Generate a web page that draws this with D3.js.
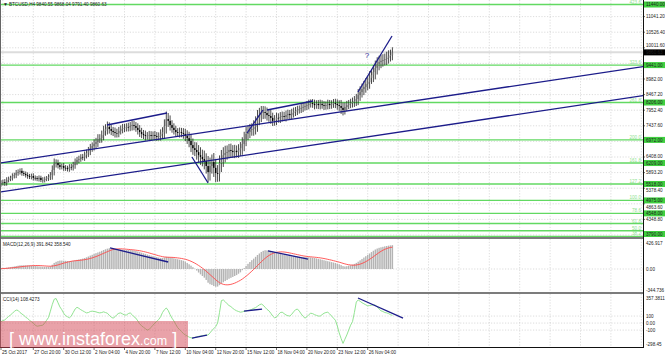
<!DOCTYPE html>
<html>
<head>
<meta charset="utf-8">
<script src="https://cdnjs.cloudflare.com/ajax/libs/d3/7.8.5/d3.min.js"></script>
<style>
  body { margin: 0; background: #fff; }
  svg { display: block; font-family: "Liberation Sans", Arial, sans-serif; }
  .grid line { stroke: #c4c4c4; stroke-width: 0.6; stroke-dasharray: 1.2,1.6; }
  .lbl { font-size: 4.6px; fill: #222; }
</style>
</head>
<body>
<svg id="svg" width="665" height="357"></svg>
<script>
// H4 closes, bar 0 = 25 Oct 2017 00:00
const closes = [
  5550,5580,5550,5650,5680,5720,5780,5810,5880,5910,
  5950,5880,5850,5810,5780,5750,5780,5720,5710,5680,
  5720,5650,5650,5680,5710,5750,5810,5980,6180,6210,
  6140,6080,6110,6050,6040,6010,6080,6070,6140,6240,
  6310,6340,6410,6400,6470,6540,6610,6700,6770,6840,
  6900,7000,7030,7130,7270,7330,7400,7330,7270,7230,
  7200,7190,7270,7330,7360,7370,7400,7390,7430,7460,
  7430,7370,7300,7230,7170,7130,7100,7110,7130,7100,
  7130,7100,7070,7100,7170,7230,7430,7660,7600,7460,
  7370,7300,7230,7200,7230,7200,7170,7100,7030,6940,
  6800,6700,6640,6570,6470,6410,6340,6280,6110,5910,
  6110,6240,6050,5880,5850,6210,6340,6470,6540,6570,
  6640,6610,6570,6610,6570,6640,6700,6840,7000,7170,
  7230,7300,7330,7400,7500,7700,7790,7860,7890,7860,
  7790,7760,7700,7600,7630,7700,7690,7730,7760,7730,
  7790,7830,7790,7860,7890,7930,7960,7990,8030,8060,
  8090,8120,8160,8190,8160,8120,8160,8120,8160,8120,
  8090,8120,8160,8120,8160,8190,8160,8120,8090,8030,
  7960,8060,8120,8160,8190,8220,8260,8320,8450,8550,
  8650,8720,8820,8880,9020,9110,9210,9350,9480,9540,
  9580,9610,9640,9680,9740,9770,9860
];
// extra wick length above / below each body
const wicks = [
  90,80,100,90,80,70,90,80,100,90,
  80,90,70,80,90,70,80,90,80,70,
  80,70,90,80,70,90,100,150,180,120,
  110,90,80,100,90,80,90,100,110,120,
  100,110,90,100,120,110,130,140,120,150,
  140,160,130,150,170,160,180,150,140,130,
  150,140,130,120,140,130,120,140,130,150,
  140,130,150,160,140,130,150,120,140,130,
  120,140,130,120,150,160,220,250,200,180,
  160,150,140,130,150,140,160,170,190,210,
  230,220,200,250,230,260,240,280,250,330,
  280,250,300,300,260,250,300,260,240,220,
  200,210,190,200,180,190,200,220,240,230,
  210,200,190,220,250,260,240,230,200,190,
  180,190,200,170,160,170,150,160,150,140,
  150,140,130,140,150,130,140,120,130,140,
  120,130,140,120,130,140,120,130,140,120,
  130,120,140,130,120,130,140,150,160,200,
  180,150,140,130,140,150,160,170,200,190,
  180,200,190,210,220,200,230,240,220,210,
  200,190,180,200,190,180,170
];
const macdMain = [
  10,14,18,22,26,31,36,42,48,54,
  60,61,61,60,60,59,57,54,50,46,
  42,40,38,37,38,39,44,70,100,118,
  130,138,138,136,134,131,130,131,135,142,
  150,157,163,170,180,192,205,220,233,246,
  260,272,284,298,312,324,334,340,338,334,
  329,325,322,320,318,316,314,312,310,308,
  303,296,288,278,268,258,248,238,228,220,
  212,204,196,188,182,182,190,200,198,192,
  184,176,168,160,153,145,136,122,100,78,
  55,30,5,-25,-58,-88,-115,-142,-180,-225,
  -250,-262,-280,-292,-288,-265,-240,-218,-198,-180,
  -160,-145,-130,-115,-100,-78,-55,-20,15,50,
  85,115,145,170,200,230,255,280,298,308,
  306,302,296,285,274,265,255,246,238,230,
  224,218,212,208,205,203,202,201,200,199,
  197,195,193,190,186,180,174,167,160,152,
  144,136,128,121,113,106,98,88,78,64,
  48,42,46,54,62,72,84,100,120,142,
  165,188,210,232,255,278,300,320,336,348,
  356,364,372,378,384,388,391.842
];
const macdSignal = [
  5,7,9,11,14,17,20,23,27,31,
  35,39,43,46,49,52,54,56,57,57,
  56,55,53,51,49,47,46,48,53,59,
  67,77,86,96,105,113,120,127,132,135,
  138,141,144,148,153,158,165,173,182,193,
  204,216,229,243,257,271,285,298,310,319,
  325,329,331,331,330,328,325,322,319,316,
  313,309,305,300,294,287,280,272,263,254,
  245,236,227,218,210,203,198,195,193,192,
  191,189,186,182,178,173,167,160,151,140,
  127,112,96,78,58,37,14,-10,-36,-64,
  -92,-120,-148,-176,-202,-224,-240,-252,-258,-260,
  -258,-252,-243,-232,-218,-202,-185,-165,-142,-118,
  -92,-64,-36,-6,25,56,88,118,148,175,
  200,222,240,255,266,274,279,281,281,279,
  275,270,264,257,250,243,236,229,222,216,
  211,207,203,200,197,194,191,187,183,178,
  172,166,159,152,145,137,129,121,112,103,
  93,84,76,70,66,63,63,66,72,80,
  91,105,121,139,159,180,202,225,248,270,
  290,308,323,336,346,353,358.54
];
const cci = [
  20,35,45,70,95,115,140,165,185,180,
  150,130,110,85,65,40,20,0,-30,-45,
  -40,-35,-30,0,40,80,170,265,340,350,
  290,230,190,140,105,90,75,100,150,200,
  225,210,190,175,160,145,150,165,170,165,
  160,150,145,150,160,150,140,110,85,70,
  90,120,140,145,130,115,115,135,145,120,
  90,70,30,-10,-40,-60,-80,-100,-90,-60,
  -30,0,25,50,90,150,190,215,180,120,
  70,30,-20,-65,-95,-120,-150,-170,-185,-200,
  -210,-215,-205,-195,-190,-185,-180,-175,-172,-170,
  -140,-105,-80,-50,0,150,320,330,305,275,
  250,235,210,190,175,165,155,160,170,175,
  180,185,195,210,220,240,260,272,255,225,
  195,175,140,100,75,85,120,150,155,135,
  115,105,100,125,160,190,200,170,130,95,
  70,90,120,140,135,120,110,100,100,120,
  140,150,155,130,100,70,40,-40,-140,-220,
  -290,-230,-170,-100,-30,20,150,300,330,310,
  290,275,260,245,250,255,260,255,230,200,
  175,165,150,145,135,120,108.4273
];

// fibo levels (green)
const fiboRatios = ["423.6","323.6","261.8","200.0","161.8","127.2","100.0","78.6","61.8","50.0","38.2"];
const fiboPrices = [11440, 9441, 8206, 6972, 6209, 5518, 4975, 4548, 4212, 3976, 3790];
const fiboBoxed  = [true, true, true, true, true, true, true, true, false, false, true];

const priceTicks = [3834.0, 4348.8, 4863.6, 5378.4, 5893.2, 6408.0, 6922.8, 7437.6, 7952.4, 8467.2, 8982.0, 9496.8, 10011.6, 10526.4, 11041.2];
const timeTicks = [0, 17, 33, 49, 65, 81, 97, 113, 129, 145, 161, 177, 193];
const timeLabels = ["25 Oct 2017", "27 Oct 20:00", "30 Oct 12:00", "2 Nov 04:00", "4 Nov 20:00", "7 Nov 12:00",
  "10 Nov 04:00", "12 Nov 20:00", "15 Nov 12:00", "18 Nov 04:00", "20 Nov 20:00", "23 Nov 12:00", "26 Nov 04:00"];

// trend lines [bar1, value1, bar2, value2]
const priceLines = [
  [-0.5, 5253, 338, 8437],   // lower channel
  [-0.5, 6210, 338, 9394],   // upper channel
  [55.8, 7464, 87.4, 7860],
  [100.5, 6408, 109, 5550],
  [129.5, 7200, 137.9, 7959],
  [140, 7959, 164.2, 8256],
  [187.9, 8553, 205.8, 10401]
];
const macdLines = [[57.4, 345, 88, 115], [140.5, 296, 161.6, 164]];
const cciLines = [[100.5, -214, 108.4, -171], [127.9, 170, 137.4, 200], [187.9, 357, 211.6, 71]];

const lastPrice = 9860.63;
const macdTicks = [426.917, 0, -344.736];
const cciTicks = [357.3811, 100, 0, -100, -298.45];

// ---- layout
const L = 1, R = 643;
const main = { top: 0, bottom: 237 }, mac = { top: 239, bottom: 292 }, cc = { top: 294, bottom: 347 };

var svg = d3.select("svg");
var x = d3.scaleLinear().domain([0, 338]).range([L, R + 0.2]);
var y = d3.scaleLinear().domain([3768, 11589]).range([main.bottom, main.top]);
var ym = d3.scaleLinear().domain([-344.736, 426.917]).range([290, 243]);
var yc = d3.scaleLinear().domain([-298.45, 357.3811]).range([344, 298]);

var defs = svg.append("defs");
[["cm", main], ["cmac", mac], ["ccc", cc]].forEach(function (p) {
  defs.append("clipPath").attr("id", p[0]).append("rect")
    .attr("x", L).attr("y", p[1].top).attr("width", R - L).attr("height", p[1].bottom - p[1].top);
});

// grid
var gridBars = d3.range(1, 338, 16);
[[main, priceTicks.map(y)], [mac, [ym(0)]], [cc, [yc(100), yc(0), yc(-100)]]].forEach(function (p) {
  var g = svg.append("g").attr("class", "grid");
  g.selectAll(".v").data(gridBars).enter().append("line")
    .attr("x1", d => x(d)).attr("x2", d => x(d)).attr("y1", p[0].top).attr("y2", p[0].bottom);
  g.selectAll(".h").data(p[1]).enter().append("line")
    .attr("x1", L).attr("x2", R).attr("y1", d => d).attr("y2", d => d);
});

// ---- main panel
var gm = svg.append("g").attr("clip-path", "url(#cm)");

gm.selectAll(".fibo").data(fiboPrices).enter().append("line")
  .attr("x1", L).attr("x2", R).attr("y1", d => y(d)).attr("y2", d => y(d))
  .attr("stroke", "#62d962").attr("stroke-width", 1.4);
gm.selectAll(".fiboTxt").data(fiboPrices).enter().append("text")
  .attr("x", R - 2).attr("y", d => y(d) - 1).attr("text-anchor", "end")
  .attr("font-size", 4.6).attr("fill", "#8fdf8f").text((d, i) => fiboRatios[i]);

gm.append("line").attr("x1", L).attr("x2", R).attr("y1", y(lastPrice)).attr("y2", y(lastPrice))
  .attr("stroke", "#dcdcdc").attr("stroke-width", 2);

var bars = closes.map(function (c, i) {
  var o = i ? closes[i - 1] : 5520;
  return { i: i, o: o, c: c, h: Math.max(o, c) + wicks[i], l: Math.min(o, c) - wicks[i] };
});
gm.selectAll(".wick").data(bars).enter().append("line")
  .attr("x1", d => x(d.i)).attr("x2", d => x(d.i)).attr("y1", d => y(d.h)).attr("y2", d => y(d.l))
  .attr("stroke", "#1e1e1e").attr("stroke-width", 0.8);
gm.selectAll(".body").data(bars).enter().append("rect")
  .attr("x", d => x(d.i) - 0.7).attr("width", 1.4)
  .attr("y", d => y(Math.max(d.o, d.c))).attr("height", d => Math.max(0.6, Math.abs(y(d.o) - y(d.c))))
  .attr("fill", d => d.c >= d.o ? "#6e6e6e" : "#000");

gm.selectAll(".tl").data(priceLines).enter().append("line")
  .attr("x1", d => x(d[0])).attr("y1", d => y(d[1])).attr("x2", d => x(d[2])).attr("y2", d => y(d[3]))
  .attr("stroke", "#1c1c8a").attr("stroke-width", 1.3);
gm.append("text").attr("x", x(191.5)).attr("y", y(9660)).attr("font-size", 8)
  .attr("fill", "#2a2a9a").text("?");

svg.append("text").attr("x", 3).attr("y", 6).attr("font-size", 5).attr("fill", "#222").text("\u25BC");
svg.append("text").attr("x", 9).attr("y", 6).attr("class", "lbl").attr("fill", "#444")
  .text("BTCUSD,H4  9840.55 9868.04 9791.40 9860.63");

// ---- MACD panel
var gmac = svg.append("g").attr("clip-path", "url(#cmac)");
gmac.selectAll(".hist").data(macdMain).enter().append("rect")
  .attr("x", (d, i) => x(i) - 0.7).attr("width", 1.4)
  .attr("y", d => Math.min(ym(d), ym(0))).attr("height", d => Math.abs(ym(d) - ym(0)))
  .attr("fill", "#b4b4b4");
gmac.append("path").datum(macdSignal)
  .attr("d", d3.line().x((d, i) => x(i)).y(d => ym(d)))
  .attr("fill", "none").attr("stroke", "#ff4a4a").attr("stroke-width", 0.9);
gmac.selectAll(".tl").data(macdLines).enter().append("line")
  .attr("x1", d => x(d[0])).attr("y1", d => ym(d[1])).attr("x2", d => x(d[2])).attr("y2", d => ym(d[3]))
  .attr("stroke", "#1c1c8a").attr("stroke-width", 1.3);
svg.append("text").attr("class", "lbl").attr("x", 3).attr("y", 245.5)
  .text("MACD(12,26,9) 391.842 358.540");

// ---- CCI panel
var gcc = svg.append("g").attr("clip-path", "url(#ccc)");
gcc.append("path").datum(cci)
  .attr("d", d3.line().x((d, i) => x(i)).y(d => yc(d)))
  .attr("fill", "none").attr("stroke", "#86e086").attr("stroke-width", 0.9);
gcc.selectAll(".tl").data(cciLines).enter().append("line")
  .attr("x1", d => x(d[0])).attr("y1", d => yc(d[1])).attr("x2", d => x(d[2])).attr("y2", d => yc(d[3]))
  .attr("stroke", "#1c1c8a").attr("stroke-width", 1.3);
svg.append("text").attr("class", "lbl").attr("x", 3).attr("y", 300.5).text("CCI(14) 108.4273");

// ---- frames and separators
svg.append("rect").attr("x", 0).attr("y", 237).attr("width", 644).attr("height", 2).attr("fill", "#7c7c7c");
svg.append("rect").attr("x", 0).attr("y", 292).attr("width", 644).attr("height", 2).attr("fill", "#7c7c7c");
svg.append("line").attr("x1", 0.5).attr("x2", 0.5).attr("y1", 0).attr("y2", 347).attr("stroke", "#666");
svg.append("line").attr("x1", R + 0.5).attr("x2", R + 0.5).attr("y1", 0).attr("y2", 347).attr("stroke", "#111");
svg.append("line").attr("x1", 0).attr("x2", R + 1).attr("y1", 347.5).attr("y2", 347.5).attr("stroke", "#111");

// ---- right axes
// price labels hidden under a level box are skipped, near ones pushed clear of it
var boxYs = fiboPrices.filter((p, i) => fiboBoxed[i]).map(p => Math.min(y(p), 234)).concat([y(lastPrice)]);
function tickY(d) {
  var yy = y(d);
  for (var k = 0; k < boxYs.length; k++) {
    var dy = yy - boxYs[k];
    if (Math.abs(dy) < 2.5) return null;
    if (Math.abs(dy) < 6.5) return boxYs[k] + (dy > 0 ? 6.5 : -6.5);
  }
  return yy;
}
var ax = svg.append("g").attr("class", "lbl");
ax.selectAll(".pt").data(priceTicks.filter(d => tickY(d) !== null)).enter().append("text")
  .attr("x", 646).attr("y", d => tickY(d) + 1.6).text(d => d.toFixed(2));
ax.selectAll(".mt").data(macdTicks).enter().append("text")
  .attr("x", 646).attr("y", d => ym(d) + 1.6).text(d => d === 0 ? "0.00" : d.toFixed(3));
ax.selectAll(".ct").data(cciTicks).enter().append("text")
  .attr("x", 646).attr("y", d => yc(d) + 1.6).text(d => d === 0 ? "0.00" : String(d));
svg.selectAll(".tick").data(priceTicks).enter().append("line")
  .attr("x1", R).attr("x2", R + 2).attr("y1", d => y(d)).attr("y2", d => y(d)).attr("stroke", "#111").attr("stroke-width", 0.6);

// fibo price boxes
var fb = svg.append("g");
fiboPrices.forEach(function (p, i) {
  if (!fiboBoxed[i]) return;
  var yy = Math.min(y(p), 234);
  fb.append("rect").attr("x", 644).attr("y", yy - 3).attr("width", 21).attr("height", 6).attr("fill", "#3fcf3f");
  fb.append("text").attr("class", "lbl").attr("x", 646).attr("y", yy + 1.6).attr("fill", "#eaffea").text(p.toFixed(2));
});
svg.append("rect").attr("x", 644).attr("y", y(lastPrice) - 3).attr("width", 21).attr("height", 6).attr("fill", "#000");
svg.append("text").attr("class", "lbl").attr("x", 646).attr("y", y(lastPrice) + 1.6).attr("fill", "#fff").text(lastPrice.toFixed(2));

// ---- time axis
var tx = svg.append("g");
tx.selectAll("line").data(timeTicks).enter().append("line")
  .attr("x1", d => x(d)).attr("x2", d => x(d)).attr("y1", 347).attr("y2", 350).attr("stroke", "#111").attr("stroke-width", 0.6);
tx.selectAll("text").data(timeTicks).enter().append("text").attr("class", "lbl")
  .attr("x", d => x(d) + 1).attr("y", 354).text((d, i) => timeLabels[i]);

// ---- watermark
var wm = svg.append("g");
wm.append("rect").attr("x", 0).attr("y", 321).attr("width", 188).attr("height", 27).attr("fill", "rgba(212,70,84,0.5)");
var wt = wm.append("text").attr("x", 9).attr("y", 345).attr("fill", "#fff").attr("font-size", 18);
wt.append("tspan").text("[ www.instaforex");
wt.append("tspan").attr("font-size", 12.5).text(".com");
wt.append("tspan").text(" ]");
</script>
</body>
</html>
